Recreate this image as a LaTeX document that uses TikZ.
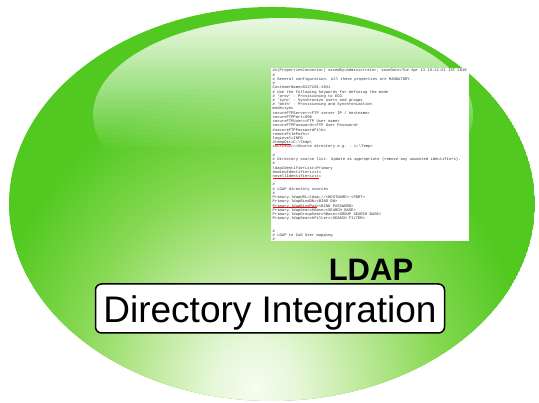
\documentclass[tikz,border=0pt]{standalone}
\usepackage{fontspec}
\setmainfont{Liberation Sans}
\newfontfamily\scrfont{Liberation Mono}
\definecolor{gl0}{HTML}{F6FCF1}
\definecolor{gl1}{HTML}{E6F7D8}
\definecolor{gl2}{HTML}{BDE99A}
\definecolor{gl3}{HTML}{86D852}
\definecolor{gl4}{HTML}{52C921}
\definecolor{hl}{HTML}{F8FDF4}
\pgfdeclareradialshading{glow}{\pgfpoint{0bp}{0bp}}{color(0bp)=(gl0); color(4bp)=(gl1); color(10bp)=(gl2); color(17bp)=(gl3); color(25bp)=(gl4); color(50bp)=(gl4)}
\newcommand\redu[1]{\setbox0\hbox{#1}\rlap{\textcolor{red}{\rule[-0.7pt]{\wd0}{0.3pt}}}\box0}
\tikzset{
  codetext/.style={anchor=north west, inner sep=0pt, align=left, text=black!80,
    font=\scrfont\fontsize{3.85}{4.22}\selectfont},
  titlebox/.style={draw=black, line width=1.5pt, rounded corners=6pt, fill=white,
    minimum width=349pt, minimum height=49pt, inner sep=0pt},
}
\begin{document}
\begin{tikzpicture}[x=1pt,y=1pt]
\useasboundingbox (0,0) rectangle (539,403);
% glossy green sphere
\begin{scope}
  \clip (272,199) ellipse [x radius=263, y radius=197];
  \fill[gl4] (272,199) ellipse [x radius=263, y radius=197];
  \shade[shading=glow] (255,15) ellipse [x radius=270, y radius=305];
  \begin{scope}
    \clip (283,288) ellipse [x radius=190, y radius=97];
    \foreach \i in {0,...,32}{
      \pgfmathsetmacro\op{0.92*(1-(\i+0.5)/33)^0.9}
      \fill[hl, fill opacity=\op] (80,{385-4*\i}) rectangle (490,{385-4*(\i+1)});
    }
  \end{scope}
\end{scope}
% screenshot of configuration file
\node[fill=white, minimum width=198pt, minimum height=173pt, inner sep=0pt, anchor=south west] (shot) at (271,162) {};
\begin{scope}
\clip (shot.south west) rectangle (shot.north east);
\node[codetext] (code) at (272.5,334) {%
\#\#(PropertiesConnector) savedBy=Administrator, saveDate=Tue Apr 13 18:12:51 IST 2010\\
\#\\
\# General configuration. All these properties are MANDATORY.\\
\#\\
CustomerName=0227201-1031\\
\# Use the following keywords for defining the mode\\
\# 'prov' - Provisioning to ECO\\
\# 'sync' - Synchronize users and groups\\
\# 'both' - Provisioning and Synchronization\\
mode=sync\\
secureFTPServer=<FTP server IP / hostname>\\
secureFTPPort=990\\
secureFTPUser=<FTP User name>\\
secureFTPPassword=<FTP User Password>\\
\#secureFTPPasswordFile=\\
remoteFilePath=/\\
logLevel=INFO\\
\#\redu{tempDir}=C:\textbackslash Temp\textbackslash\\
sourceDir=<Source directory e.g. - c:\textbackslash Temp>\\
\mbox{}\\
\#\\
\# Directory source list. Update as appropriate (remove any unwanted identifiers).\\
\#\\
ldapIdentifierList=Primary\\
dominoIdentifierList=\\
\redu{novellIdentifierList}=\\
\mbox{}\\
\#\\
\# LDAP directory sources\\
\#\\
Primary.ldapURL=ldap://<HOSTNAME>:<PORT>\\
Primary.ldapBindDN=<BIND DN>\\
\redu{Primary.ldapBindPwd}=<BIND PASSWORD>\\
Primary.ldapSearchBase=<SEARCH BASE>\\
Primary.ldapGroupSearchBase=<GROUP SEARCH BASE>\\
Primary.ldapSearchFilter=<SEARCH FILTER>\\
\mbox{}\\
\mbox{}\\
\#\\
\# LDAP to CuD User mapping\\
\#};
\end{scope}
% labels
\node[anchor=base, inner sep=0pt, font=\bfseries\fontsize{31}{31}\selectfont] (ldap) at (371,122) {LDAP};
\node[titlebox] (box) at (270,94.5) {};
\node[anchor=base, inner sep=0pt, font=\fontsize{37}{37}\selectfont] (di) at (270,80) {Directory Integration};
\end{tikzpicture}
\end{document}
